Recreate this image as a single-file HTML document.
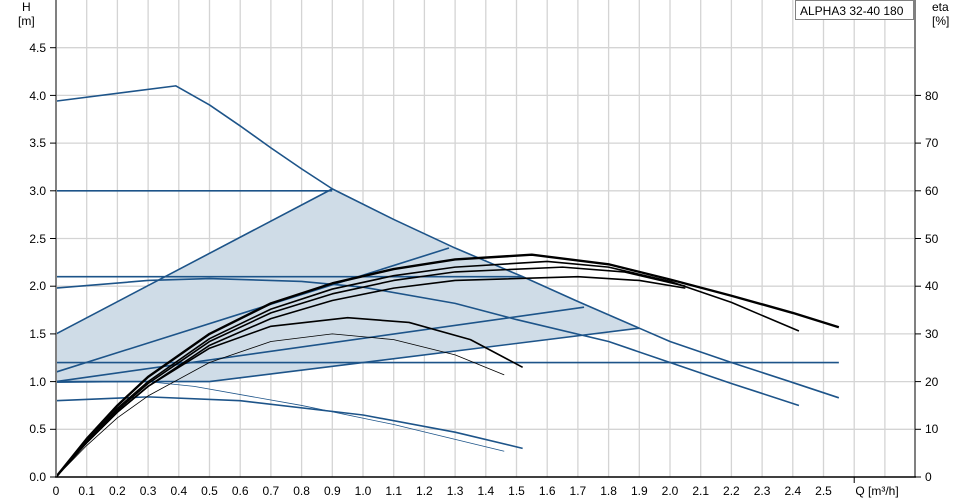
<!DOCTYPE html>
<html><head><meta charset="utf-8"><style>
body{margin:0;background:#fff}
svg{display:block;font-family:"Liberation Sans",Arial,sans-serif;font-size:12px}
.b{fill:none;stroke:#1d5489;stroke-width:1.6;vector-effect:non-scaling-stroke;stroke-linejoin:round}
.k{fill:none;stroke:#000;stroke-width:1.6;vector-effect:non-scaling-stroke;stroke-linejoin:round}
</style></head><body>
<svg width="968" height="498" viewBox="0 0 968 498">
<g stroke="#d4d4d4" stroke-width="1.3">
<line x1="86.7" y1="0" x2="86.7" y2="477"/><line x1="117.4" y1="0" x2="117.4" y2="477"/><line x1="148.1" y1="0" x2="148.1" y2="477"/><line x1="178.8" y1="0" x2="178.8" y2="477"/><line x1="209.5" y1="0" x2="209.5" y2="477"/><line x1="240.2" y1="0" x2="240.2" y2="477"/><line x1="270.9" y1="0" x2="270.9" y2="477"/><line x1="301.6" y1="0" x2="301.6" y2="477"/><line x1="332.3" y1="0" x2="332.3" y2="477"/><line x1="363" y1="0" x2="363" y2="477"/><line x1="393.7" y1="0" x2="393.7" y2="477"/><line x1="424.4" y1="0" x2="424.4" y2="477"/><line x1="455.1" y1="0" x2="455.1" y2="477"/><line x1="485.8" y1="0" x2="485.8" y2="477"/><line x1="516.5" y1="0" x2="516.5" y2="477"/><line x1="547.2" y1="0" x2="547.2" y2="477"/><line x1="577.9" y1="0" x2="577.9" y2="477"/><line x1="608.6" y1="0" x2="608.6" y2="477"/><line x1="639.3" y1="0" x2="639.3" y2="477"/><line x1="670" y1="0" x2="670" y2="477"/><line x1="700.7" y1="0" x2="700.7" y2="477"/><line x1="731.4" y1="0" x2="731.4" y2="477"/><line x1="762.1" y1="0" x2="762.1" y2="477"/><line x1="792.8" y1="0" x2="792.8" y2="477"/><line x1="823.5" y1="0" x2="823.5" y2="477"/><line x1="854.2" y1="0" x2="854.2" y2="477"/><line x1="884.9" y1="0" x2="884.9" y2="477"/>
<line x1="56" y1="429.3" x2="915" y2="429.3"/><line x1="56" y1="381.6" x2="915" y2="381.6"/><line x1="56" y1="333.9" x2="915" y2="333.9"/><line x1="56" y1="286.2" x2="915" y2="286.2"/><line x1="56" y1="238.5" x2="915" y2="238.5"/><line x1="56" y1="190.8" x2="915" y2="190.8"/><line x1="56" y1="143.1" x2="915" y2="143.1"/><line x1="56" y1="95.4" x2="915" y2="95.4"/><line x1="56" y1="47.7" x2="915" y2="47.7"/>
</g>
<g transform="translate(56,477) scale(307,-95.4)">
<polygon fill="#cfdce7" points="0,1.5 0.9,3.02 1.1,2.7 1.3,2.4 1.52,2.1 1.7,1.84 1.9,1.56 0.5,1.0 0,1.0"/>
<polyline class="b" points="0,3.94 0.39,4.1 0.5,3.9 0.6,3.68 0.7,3.45 0.8,3.23 0.9,3.02 1.1,2.7 1.3,2.4 1.52,2.1 1.7,1.84 1.9,1.56 2.0,1.42 2.2,1.2 2.4,0.99 2.55,0.83"/>
<polyline class="b" points="0,3.0 0.9,3.0"/>
<polyline class="b" points="0,2.1 1.52,2.1"/>
<polyline class="b" points="0,1.2 2.55,1.2"/>
<polyline class="b" points="0,1.5 0.9,3.02"/>
<polyline class="b" points="0,1.1 1.28,2.4"/>
<polyline class="b" points="0,1.0 1.72,1.78"/>
<polyline class="b" points="0,1.0 0.5,1.0 1.9,1.56"/>
<polyline class="b" points="0,1.98 0.3,2.06 0.5,2.08 0.8,2.05 1.0,1.99 1.3,1.82 1.5,1.65 1.8,1.42 2.0,1.2 2.2,0.98 2.42,0.75"/>
<polyline class="b" points="0,0.8 0.3,0.84 0.6,0.8 1.0,0.65 1.3,0.47 1.52,0.3"/>
<polyline class="b" style="stroke-width:0.8" points="0,0.99 0.3,1.0 0.45,0.95 0.8,0.75 1.1,0.55 1.46,0.27"/>
<polyline class="k" style="stroke-width:2.4" points="0,0 0.1,0.4 0.2,0.75 0.3,1.05 0.5,1.5 0.7,1.82 0.9,2.03 1.1,2.18 1.3,2.28 1.55,2.33 1.8,2.23 2.0,2.07 2.2,1.9 2.4,1.72 2.55,1.57"/>
<polyline class="k" points="0,0 0.1,0.38 0.2,0.72 0.3,1.0 0.5,1.45 0.7,1.76 0.9,1.97 1.1,2.11 1.3,2.2 1.6,2.26 1.8,2.2 2.0,2.05 2.2,1.83 2.42,1.53"/>
<polyline class="k" points="0,0 0.1,0.37 0.2,0.7 0.3,0.98 0.5,1.42 0.7,1.72 0.9,1.92 1.1,2.06 1.3,2.15 1.65,2.2 1.85,2.15 2.05,2.0"/>
<polyline class="k" points="0,0 0.1,0.36 0.2,0.68 0.3,0.95 0.5,1.38 0.7,1.66 0.9,1.85 1.1,1.98 1.3,2.06 1.7,2.1 1.9,2.06 2.05,1.98"/>
<polyline class="k" points="0,0 0.1,0.36 0.2,0.68 0.3,0.95 0.5,1.35 0.7,1.58 0.95,1.67 1.15,1.62 1.35,1.44 1.52,1.15"/>
<polyline class="k" style="stroke-width:0.8" points="0,0 0.1,0.33 0.2,0.62 0.3,0.85 0.5,1.2 0.7,1.42 0.9,1.5 1.1,1.44 1.3,1.28 1.46,1.07"/>
</g>
<line x1="56" y1="0" x2="56" y2="477" stroke="#808080" stroke-width="2"/>
<line x1="915" y1="0" x2="915" y2="477" stroke="#808080" stroke-width="2"/>
<line x1="55" y1="477" x2="916" y2="477" stroke="#000" stroke-width="1.5"/>
<g stroke="#000" stroke-width="1">
<line x1="50" y1="429.3" x2="56" y2="429.3"/><line x1="50" y1="381.6" x2="56" y2="381.6"/><line x1="50" y1="333.9" x2="56" y2="333.9"/><line x1="50" y1="286.2" x2="56" y2="286.2"/><line x1="50" y1="238.5" x2="56" y2="238.5"/><line x1="50" y1="190.8" x2="56" y2="190.8"/><line x1="50" y1="143.1" x2="56" y2="143.1"/><line x1="50" y1="95.4" x2="56" y2="95.4"/><line x1="50" y1="47.7" x2="56" y2="47.7"/><line x1="50" y1="477" x2="56" y2="477"/>
<line x1="915" y1="477" x2="921" y2="477"/><line x1="915" y1="429.3" x2="921" y2="429.3"/><line x1="915" y1="381.6" x2="921" y2="381.6"/><line x1="915" y1="333.9" x2="921" y2="333.9"/><line x1="915" y1="286.2" x2="921" y2="286.2"/><line x1="915" y1="238.5" x2="921" y2="238.5"/><line x1="915" y1="190.8" x2="921" y2="190.8"/><line x1="915" y1="143.1" x2="921" y2="143.1"/><line x1="915" y1="95.4" x2="921" y2="95.4"/>
<line x1="854.2" y1="477" x2="854.2" y2="483"/>
</g>
<g fill="#000" text-anchor="end">
<text x="46" y="481">0.0</text><text x="46" y="433">0.5</text><text x="46" y="386">1.0</text><text x="46" y="338">1.5</text><text x="46" y="290">2.0</text><text x="46" y="243">2.5</text><text x="46" y="195">3.0</text><text x="46" y="147">3.5</text><text x="46" y="100">4.0</text><text x="46" y="52">4.5</text>
</g>
<g fill="#000">
<text x="925" y="481">0</text><text x="925" y="433">10</text><text x="925" y="386">20</text><text x="925" y="338">30</text><text x="925" y="290">40</text><text x="925" y="243">50</text><text x="925" y="195">60</text><text x="925" y="147">70</text><text x="925" y="100">80</text>
<text x="932" y="11">eta</text><text x="932" y="25">[%]</text>
<text x="22" y="11">H</text><text x="18" y="25">[m]</text>
</g>
<g fill="#000" text-anchor="middle">
<text x="56" y="495">0</text><text x="86.7" y="495">0.1</text><text x="117.4" y="495">0.2</text><text x="148.1" y="495">0.3</text><text x="178.8" y="495">0.4</text><text x="209.5" y="495">0.5</text><text x="240.2" y="495">0.6</text><text x="270.9" y="495">0.7</text><text x="301.6" y="495">0.8</text><text x="332.3" y="495">0.9</text><text x="363" y="495">1.0</text><text x="393.7" y="495">1.1</text><text x="424.4" y="495">1.2</text><text x="455.1" y="495">1.3</text><text x="485.8" y="495">1.4</text><text x="516.5" y="495">1.5</text><text x="547.2" y="495">1.6</text><text x="577.9" y="495">1.7</text><text x="608.6" y="495">1.8</text><text x="639.3" y="495">1.9</text><text x="670" y="495">2.0</text><text x="700.7" y="495">2.1</text><text x="731.4" y="495">2.2</text><text x="762.1" y="495">2.3</text><text x="792.8" y="495">2.4</text><text x="823.5" y="495">2.5</text><text x="877" y="495">Q [m³/h]</text>
</g>
<rect x="795.5" y="0.5" width="118" height="19" fill="#fff" stroke="#808080"/>
<text x="800" y="15" fill="#000">ALPHA3 32-40 180</text>
</svg>
</body></html>
